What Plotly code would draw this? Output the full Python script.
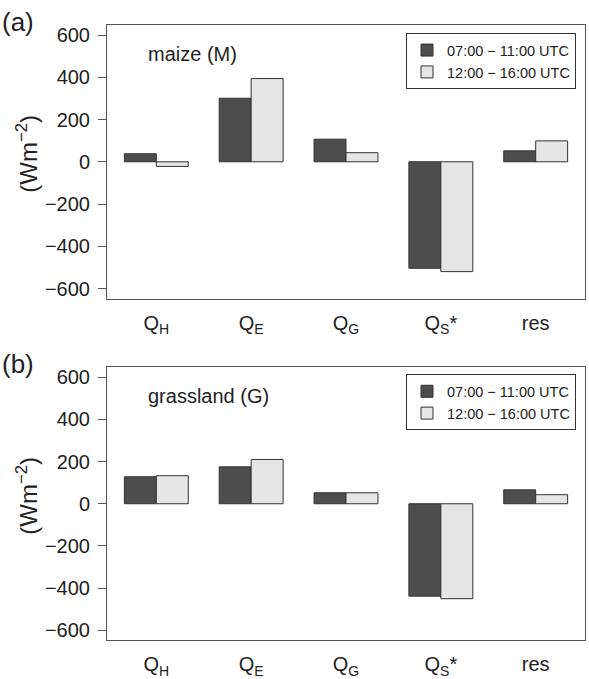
import plotly.graph_objects as go

categories = ["Q<sub>H</sub>", "Q<sub>E</sub>", "Q<sub>G</sub>", "Q<sub>S</sub>*", "res"]
series_names = ["07:00 \u2212 11:00 UTC", "12:00 \u2212 16:00 UTC"]
maize_morning = [38, 301, 107, -504, 52]
maize_afternoon = [-22, 394, 43, -520, 99]
grass_morning = [128, 175, 52, -438, 66]
grass_afternoon = [133, 210, 52, -450, 43]
yticks = [-600, -400, -200, 0, 200, 400, 600]
panel_titles = ["maize (M)", "grassland (G)"]
panel_letters = ["(a)", "(b)"]

W, H = 589, 679
colors = ["#4d4d4d", "#e5e5e5"]
FONT = "Liberation Sans, Arial, sans-serif"
xpos = list(range(len(categories)))

fig = go.Figure()
panels = [(maize_morning, maize_afternoon, "x", "y", "legend"),
          (grass_morning, grass_afternoon, "x2", "y2", "legend2")]
for (m, a, xa, ya, lg) in panels:
    for vals, name, col in zip([m, a], series_names, colors):
        fig.add_trace(go.Bar(x=xpos, y=vals, name=name, xaxis=xa, yaxis=ya,
                             legend=lg, marker=dict(color=col, line=dict(color="#333333", width=1))))

def px_y(p):
    return 1 - p / H

xdom = [107 / W, 585 / W]
doms = [[px_y(299), px_y(24)], [px_y(642.3), px_y(367.7)]]

common_x = dict(range=[-0.52, 4.52], tickvals=xpos, ticktext=categories, showline=True,
                mirror=True, linecolor="#555555", linewidth=1, ticks="", showgrid=False,
                zeroline=False, tickfont=dict(size=20, color="#222222", family=FONT),
                ticklabelstandoff=6, fixedrange=True)
common_y = dict(range=[-648, 648], tickvals=yticks, ticktext=[str(v).replace("-", "\u2212") for v in yticks],
                showline=True, mirror=True, linecolor="#555555", linewidth=1, ticks="outside",
                ticklen=8, tickcolor="#555555", showgrid=False, zeroline=False,
                tickfont=dict(size=20, color="#222222", family=FONT), ticklabelstandoff=4)

legend_common = dict(xanchor="right", yanchor="top", bordercolor="#333333", borderwidth=1,
                     bgcolor="white", font=dict(size=14.5, family=FONT, color="#222222"),
                     tracegroupgap=0, itemwidth=30)
fig.update_layout(
    xaxis=dict(domain=xdom, anchor="y", **common_x),
    yaxis=dict(domain=doms[0], anchor="x", **common_y),
    xaxis2=dict(domain=xdom, anchor="y2", **common_x),
    yaxis2=dict(domain=doms[1], anchor="x2", **common_y),
    barmode="group", bargap=0.326, bargroupgap=0,
    width=W, height=H, margin=dict(l=0, r=0, t=0, b=0),
    plot_bgcolor="white", paper_bgcolor="white",
    font=dict(family=FONT, color="#222222"),
    legend=dict(x=576 / W, y=px_y(32.3), **legend_common),
    legend2=dict(x=576 / W, y=px_y(375), **legend_common),
)

annotations = []
for i, (dom, title, letter) in enumerate(zip(doms, panel_titles, panel_letters)):
    top_px = (1 - dom[1]) * H
    annotations.append(dict(text=title, x=146 / W, y=px_y(top_px + 29), xref="paper", yref="paper",
                            xanchor="left", yanchor="middle", showarrow=False,
                            font=dict(size=20, family=FONT, color="#222222")))
    annotations.append(dict(text=letter, x=0, y=px_y(top_px - 3), xref="paper", yref="paper",
                            xanchor="left", yanchor="middle", showarrow=False,
                            font=dict(size=26, family=FONT, color="#222222")))
    annotations.append(dict(text="(Wm<sup>\u22122</sup>)", x=27 / W, y=(dom[0] + dom[1]) / 2 + 0.012,
                            xref="paper", yref="paper", xanchor="center", yanchor="middle",
                            textangle=-90, showarrow=False,
                            font=dict(size=24, family=FONT, color="#222222")))
fig.update_layout(annotations=annotations)

fig.write_html("out.html")
